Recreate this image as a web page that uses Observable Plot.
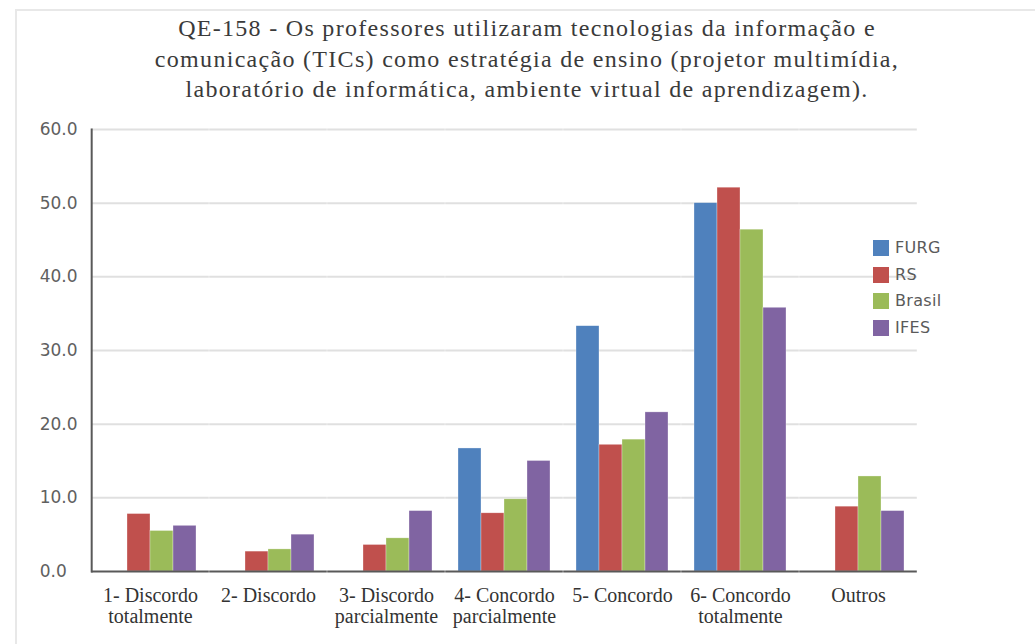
<!DOCTYPE html>
<html>
<head>
<meta charset="utf-8">
<script src="https://cdn.jsdelivr.net/npm/d3@7"></script>
<script src="https://cdn.jsdelivr.net/npm/@observablehq/plot@0.6"></script>
<style>
  body { margin: 0; background: #fff; width: 1035px; height: 644px; overflow: hidden; position: relative; }
  #frame { position: absolute; left: 15px; top: 9px; width: 1040px; height: 660px; border-top: 2px solid #e8e8e8; border-left: 2px solid #e8e8e8; pointer-events: none; }
  #title { position: relative; height: 110px; box-sizing: border-box; }
  #title div { position: absolute; top: 13px; left: 127px; width: 800px; text-align: center; font-family: "Liberation Serif", serif; font-size: 24px; letter-spacing: 1.3px; line-height: 30.5px; color: #3a3a3a; }
  #chart { position: relative; }
  #legend { position: absolute; left: 873px; top: 240px; font-family: "DejaVu Sans", sans-serif; font-size: 16px; color: #5a5a5a; }
  #legend .item { position: absolute; left: 0; height: 16px; white-space: nowrap; }
  #legend .sw { position: absolute; left: 0; top: 0; width: 16px; height: 16px; }
  #legend .lb { position: absolute; left: 22px; top: -2px; line-height: 20px; letter-spacing: 0.3px; }
</style>
</head>
<body>
<div id="frame"></div>
<div id="title"><div>QE-158 - Os professores utilizaram tecnologias da informação e<br>comunicação (TICs) como estratégia de ensino (projetor multimídia,<br>laboratório de informática, ambiente virtual de aprendizagem).</div></div>
<div id="chart"></div>
<div id="legend"></div>
<script>
const categories = [
  "1- Discordo\ntotalmente",
  "2- Discordo",
  "3- Discordo\nparcialmente",
  "4- Concordo\nparcialmente",
  "5- Concordo",
  "6- Concordo\ntotalmente",
  "Outros"
];
const seriesNames = ["FURG", "RS", "Brasil", "IFES"];
const seriesColors = ["#4F81BD", "#C0504D", "#9BBB59", "#8064A2"];
const furgValues   = [0,   0,   0,   16.7, 33.3, 50.0, 0];
const rsValues     = [7.8, 2.7, 3.6, 7.9,  17.2, 52.1, 8.8];
const brasilValues = [5.5, 3.0, 4.5, 9.8,  17.9, 46.4, 12.9];
const ifesValues   = [6.2, 5.0, 8.2, 15.0, 21.6, 35.8, 8.2];
const yTicks = [0, 10, 20, 30, 40, 50, 60];

const valuesBySeries = [furgValues, rsValues, brasilValues, ifesValues];
const table = [];
categories.forEach((c, i) => seriesNames.forEach((s, j) => {
  const v = valuesBySeries[j][i];
  if (v > 0) table.push({category: c, series: s, value: v});
}));

const W = 1035, ML = 91, MR = 117, padOuter = 0.1, padInner = 0.2;
// half of the gap between facets (= outer padding), so per-facet rules join up
const halfGap = (W - ML - MR) / categories.length * padOuter;

const chart = Plot.plot({
  width: W,
  height: 534,
  marginTop: 19,
  marginBottom: 73,
  marginLeft: ML,
  marginRight: MR,
  style: {background: "transparent", overflow: "visible"},
  fx: {domain: categories, paddingInner: padInner, paddingOuter: padOuter, label: null, axis: null},
  x: {domain: seriesNames, padding: 0, axis: null},
  y: {domain: [0, 60], label: null, axis: null},
  color: {domain: seriesNames, range: seriesColors},
  marks: [
    Plot.ruleY(yTicks.slice(1), {stroke: "#e0e0e0", strokeWidth: 2, insetLeft: -halfGap, insetRight: -halfGap}),
    Plot.barY(table, {fx: "category", x: "series", y: "value", fill: "series", stroke: "#ffffff", strokeWidth: 0.6, strokeOpacity: 0.5}),
    Plot.ruleY([0], {stroke: "#595959", strokeWidth: 2, insetLeft: -halfGap, insetRight: -halfGap}),
    Plot.frame({anchor: "left", facetAnchor: "left", stroke: "#595959", strokeWidth: 2, insetLeft: -halfGap}),
    Plot.axisY(yTicks, {anchor: "left", tickSize: 0, tickPadding: 52 + halfGap, textAnchor: "start", tickFormat: d => d.toFixed(1), fontSize: 17, fontFamily: "DejaVu Sans", fill: "#606060", label: null}),
    Plot.axisFx({anchor: "bottom", tickSize: 0, tickPadding: 16, fontSize: 20, fontFamily: "Liberation Serif", fill: "#333333", lineHeight: 1.05, label: null})
  ]
});
document.getElementById("chart").appendChild(chart);

const legend = document.getElementById("legend");
seriesNames.forEach((s, j) => {
  const item = document.createElement("div");
  item.className = "item";
  item.style.top = (j * 26.7) + "px";
  item.innerHTML = `<span class="sw" style="background:${seriesColors[j]}"></span><span class="lb">${s}</span>`;
  legend.appendChild(item);
});
</script>
</body>
</html>
